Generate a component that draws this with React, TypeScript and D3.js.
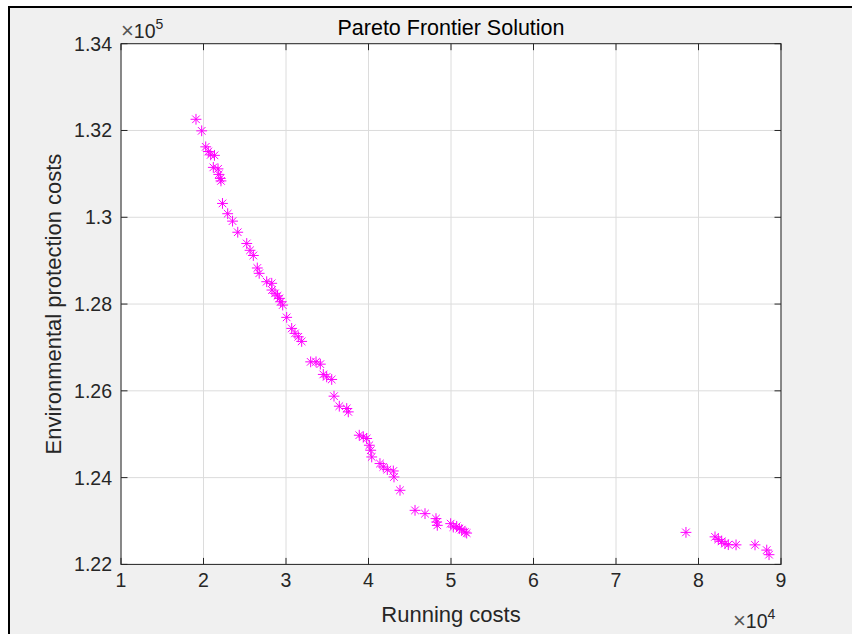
import React from "react";
import * as d3 from "d3";

// Running costs (x) and Environmental protection costs (y) of Pareto solutions
const runningCosts = [
  19090, 19780, 20270, 20580, 20870, 21330, 21190, 21760, 21850, 22040, 22120,
  22300, 22930, 23520, 24150, 25240, 25640, 26040, 26520, 26750, 27660, 28270,
  28300, 28670, 28970, 29190, 29360, 29600, 30080, 30690, 31090, 31490, 31900,
  32990, 33640, 34160, 34520, 34930, 35540, 35820, 36460, 37360, 37550, 38880,
  39370, 39780, 40100, 40270, 40390, 41390, 41790, 42280, 43010, 43090, 43820,
  45640, 46850, 48180, 48270, 48340, 49960, 50280, 50690, 51010, 51300, 51700,
  51900, 78480, 82000, 82400, 82810, 83210, 83610, 84550, 86850, 88270, 88550,
];
const envCosts = [
  132258, 131992, 131623, 131515, 131438, 131427, 131150, 131115, 130988, 130896, 130838,
  130319, 130082, 129911, 129655, 129396, 129239, 129119, 128831, 128708, 128515, 128478,
  128323, 128247, 128189, 128131, 128053, 127977, 127693, 127439, 127324, 127245, 127139,
  126668, 126668, 126615, 126378, 126322, 126262, 125877, 125646, 125593, 125515, 124977,
  124938, 124901, 124746, 124631, 124476, 124324, 124246, 124185, 124153, 124015, 123708,
  123246, 123170, 123055, 122976, 122900, 122939, 122861, 122877, 122824, 122801, 122745,
  122722, 122738, 122635, 122577, 122531, 122478, 122455, 122450, 122450, 122330, 122224,
];

const xTicks = [10000, 20000, 30000, 40000, 50000, 60000, 70000, 80000, 90000];
const xTickLabels = ["1", "2", "3", "4", "5", "6", "7", "8", "9"];
const yTicks = [122000, 124000, 126000, 128000, 130000, 132000, 134000];
const yTickLabels = ["1.22", "1.24", "1.26", "1.28", "1.3", "1.32", "1.34"];

const title = "Pareto Frontier Solution";
const xLabel = "Running costs";
const yLabel = "Environmental protection costs";

const W = 852;
const H = 634;
const L = 121, R = 781, T = 43.7, B = 564.4;
const FONT = "'Liberation Sans', Arial, Helvetica, sans-serif";
const AX = "#262626";

export default function App() {
  const x = d3.scaleLinear().domain([10000, 90000]).range([L, R]);
  const y = d3.scaleLinear().domain([122000, 134000]).range([B, T]);
  const r = 5.4, dd = 3.8;
  const star = `M${-r},0H${r}M0,${-r}V${r}M${-dd},${-dd}L${dd},${dd}M${-dd},${dd}L${dd},${-dd}`;
  const tl = 6.5;
  return (
    <svg width={W} height={H} style={{ position: "fixed", left: 0, top: 0, display: "block" }}>
      <rect x={0} y={0} width={W} height={H} fill="#ffffff" />
      <rect x={9} y={7} width={W - 9} height={H - 7} fill="#f0f0f0" />
      <line x1={8} y1={7} x2={W} y2={7} stroke="#000" strokeWidth={2} />
      <line x1={9} y1={6} x2={9} y2={H} stroke="#000" strokeWidth={2} />
      <rect x={L} y={T} width={R - L} height={B - T} fill="#ffffff" />
      {/* grid */}
      {xTicks.map((t, i) => (
        <line key={"gx" + i} x1={x(t)} x2={x(t)} y1={T} y2={B} stroke="#dcdcdc" strokeWidth={1} />
      ))}
      {yTicks.map((t, i) => (
        <line key={"gy" + i} x1={L} x2={R} y1={y(t)} y2={y(t)} stroke="#dcdcdc" strokeWidth={1} />
      ))}
      {/* markers */}
      {runningCosts.map((v, i) => (
        <path
          key={"p" + i}
          d={star}
          transform={`translate(${x(v)},${y(envCosts[i])})`}
          stroke="#ff00ff"
          strokeWidth={1}
          fill="none"
        />
      ))}
      {/* box */}
      <rect x={L} y={T} width={R - L} height={B - T} fill="none" stroke={AX} strokeWidth={1} />
      {/* ticks */}
      {xTicks.map((t, i) => (
        <g key={"tx" + i}>
          <line x1={x(t)} x2={x(t)} y1={B} y2={B - tl} stroke={AX} />
          <line x1={x(t)} x2={x(t)} y1={T} y2={T + tl} stroke={AX} />
          <text x={x(t)} y={587} fontFamily={FONT} fontSize={19.5} fill={AX} textAnchor="middle">
            {xTickLabels[i]}
          </text>
        </g>
      ))}
      {yTicks.map((t, i) => (
        <g key={"ty" + i}>
          <line x1={L} x2={L + tl} y1={y(t)} y2={y(t)} stroke={AX} />
          <line x1={R} x2={R - tl} y1={y(t)} y2={y(t)} stroke={AX} />
          <text x={112} y={y(t) + 7} fontFamily={FONT} fontSize={19.5} fill={AX} textAnchor="end">
            {yTickLabels[i]}
          </text>
        </g>
      ))}
      {/* exponents */}
      <text x={121} y={38} fontFamily={FONT} fontSize={19.5} fill={AX}>
        <tspan fontSize={22} fill="#555">×</tspan>10<tspan dy={-9} fontSize={14}>5</tspan>
      </text>
      <text x={733} y={628} fontFamily={FONT} fontSize={19.5} fill={AX}>
        <tspan fontSize={22} fill="#555">×</tspan>10<tspan dy={-9} fontSize={14}>4</tspan>
      </text>
      {/* title and labels */}
      <text x={(L + R) / 2} y={35} fontFamily={FONT} fontSize={21.5} fill="#000" textAnchor="middle">
        {title}
      </text>
      <text x={(L + R) / 2} y={622} fontFamily={FONT} fontSize={22} fill={AX} textAnchor="middle">
        {xLabel}
      </text>
      <text
        transform={`translate(61,${(T + B) / 2}) rotate(-90)`}
        fontFamily={FONT}
        fontSize={22}
        fill={AX}
        textAnchor="middle"
      >
        {yLabel}
      </text>
    </svg>
  );
}
